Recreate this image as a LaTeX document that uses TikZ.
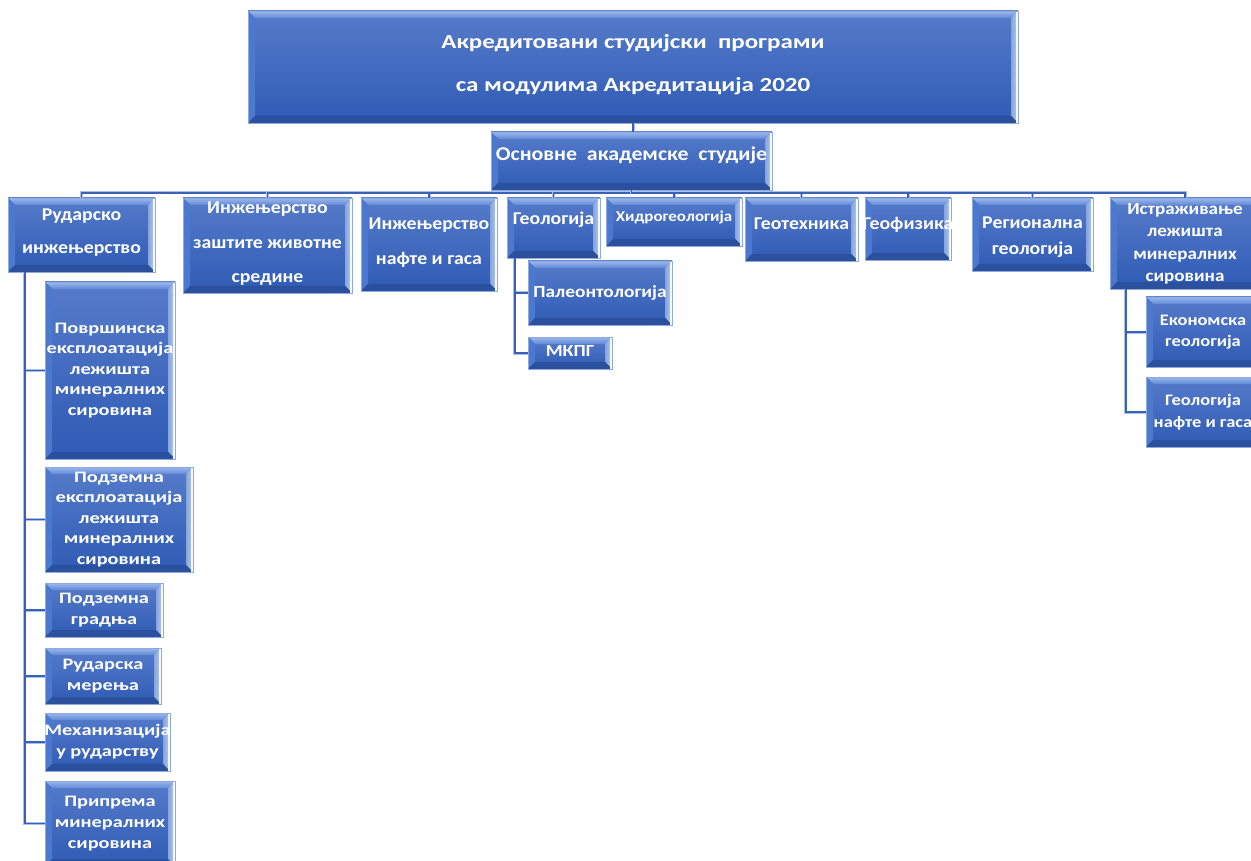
\documentclass[tikz,border=0pt]{standalone}
\usepackage{fontspec}
\setmainfont{Carlito}
\usetikzlibrary{calc}
\definecolor{boxmain}{HTML}{3864C0}
\definecolor{boxlow}{HTML}{2F5BB5}
\definecolor{boxedge}{HTML}{8FAADF}
\definecolor{bevtopout}{HTML}{9DB9EC}
\definecolor{bevtopin}{HTML}{5F88D6}
\definecolor{bevright}{HTML}{B9CDF2}
\definecolor{bevleft}{HTML}{4C78CE}
\definecolor{bevbottom}{HTML}{2A509E}
\definecolor{connc}{HTML}{3A62B4}
\definecolor{connlight}{HTML}{A7BFE9}
\tikzset{
  conn/.style={draw=connlight, line width=0.6pt, double=connc, double distance=1.8pt},
  bev/.style={draw=boxedge, line width=0.8pt, top color=boxmain!85!white, bottom color=boxlow,
    text=white, inner sep=0pt,
    path picture={
      \coordinate (nw) at (path picture bounding box.north west);
      \coordinate (ne) at (path picture bounding box.north east);
      \coordinate (sw) at (path picture bounding box.south west);
      \coordinate (se) at (path picture bounding box.south east);
      \shade[top color=bevtopout, bottom color=bevtopin] (nw) -- (ne) -- ($(ne)+(-7,7)$) -- ($(nw)+(7,7)$) -- cycle;
      \fill[bevleft] (nw) -- ($(nw)+(7,7)$) -- ($(sw)+(7,-7)$) -- (sw) -- cycle;
      \shade[left color=bevright!60!boxmain, right color=bevright] (ne) -- (se) -- ($(se)+(-7,-7)$) -- ($(ne)+(-7,7)$) -- cycle;
      \fill[bevbottom] (sw) -- ($(sw)+(7,-7)$) -- ($(se)+(-7,-7)$) -- (se) -- cycle;
      \fill[white!85!bevright] ($(ne)+(-1.6,0)$) rectangle (se);
    }},
}
% name, x1, y1, x2, y2, font size, baselineskip, stretch, text
\newcommand\obox[9]{%
  \node[bev, minimum width={(#4-#2)*1pt}, minimum height={(#5-#3)*1pt},
        font={\fontsize{#6}{#7}\selectfont\bfseries\addfontfeatures{FakeStretch=#8}}]
       (#1) at ({(#2+#4)/2},{(#3+#5)/2})
       {\makebox[0pt]{\raisebox{0pt}[0pt][0pt]{\begin{tabular}{@{}c@{}}#9\end{tabular}}}};}
\begin{document}
\begin{tikzpicture}[x=1pt,y=-1pt]
\useasboundingbox[fill=white] (0,0) rectangle (1251,861);
\coordinate (bus) at (0,193);
% boxes
\obox{title}{248}{11}{1018}{123}{20}{43}{1.25}{Акредитовани студијски\ \ програми\\са модулима Акредитација 2020}
\obox{osn}{491}{132}{772}{190}{19.5}{22}{1.12}{Основне\ \ академске\ \ студије}
\obox{rud}{8}{198}{155}{272}{18}{33}{1.1}{Рударско\\инжењерство}
\obox{zast}{183}{198}{352}{293}{18}{34.5}{1.1}{Инжењерство\\заштите животне\\средине}
\obox{naf}{361}{198}{497}{291}{18}{35}{1.1}{Инжењерство\\нафте и гаса\\[1pt]}
\obox{geo}{507}{198}{600}{258}{18}{22}{1.1}{Геологија\\[7pt]}
\obox{hid}{606}{198}{742}{246}{15}{18}{1.13}{Хидрогеологија}
\obox{geot}{745}{198}{858}{261}{18}{22}{1.1}{Геотехника}
\obox{geof}{865}{198}{951}{260}{18}{22}{1.1}{Геофизика}
\obox{reg}{972}{198}{1093}{271}{18}{26}{1.1}{Регионална\\геологија\\[-13pt]}
\obox{ist}{1110}{198}{1260}{289}{17}{22.5}{1.12}{Истраживање\\лежишта\\минералних\\сировина\\[-9pt]}
\obox{pov}{45}{282}{175}{459}{16}{20.5}{1.27}{Површинска\\експлоатација\\лежишта\\минералних\\сировина\\[-8pt]}
\obox{pod}{45}{467}{193}{572}{16}{20.5}{1.27}{Подземна\\експлоатација\\лежишта\\минералних\\сировина\\[-8pt]}
\obox{grad}{45}{583}{163}{637}{16}{21}{1.27}{Подземна\\градња\\[-8pt]}
\obox{mer}{45}{648}{161}{704}{16}{21}{1.27}{Рударска\\мерења\\[-8pt]}
\obox{meh}{45}{713}{170}{771}{16}{21}{1.27}{Механизација\\у рударству\\[-8pt]}
\obox{pri}{45}{781}{175}{866}{16}{21}{1.27}{Припрема\\минералних\\сировина\\[-8pt]}
\obox{pal}{528}{261}{672}{325}{17}{21}{1.14}{Палеонтологија\\[-9pt]}
\obox{mkpg}{528}{337}{612}{369}{17}{21}{1.14}{МКПГ\\[-7pt]}
\obox{eko}{1146}{297}{1260}{367}{16}{21}{1.15}{Економска\\геологија\\[-8pt]}
\obox{gng}{1146}{377}{1260}{447}{16}{22}{1.15}{Геологија\\нафте и гаса\\[-8pt]}
% connectors
\draw[conn] (title.south) -- (title.south |- osn.north);
\foreach \c in {rud,zast,naf,geo,hid,geot,geof,reg,ist}
  \draw[conn] (osn.south) -- (osn.south |- bus) -| (\c.north);
\foreach \c in {pov,pod,grad,mer,meh,pri}
  \draw[conn] ([xshift=17pt]rud.south west) |- (\c.west);
\foreach \c in {pal,mkpg}
  \draw[conn] ([xshift=8pt]geo.south west) |- (\c.west);
\foreach \c in {eko,gng}
  \draw[conn] ([xshift=16pt]ist.south west) |- (\c.west);
\end{tikzpicture}
\end{document}
